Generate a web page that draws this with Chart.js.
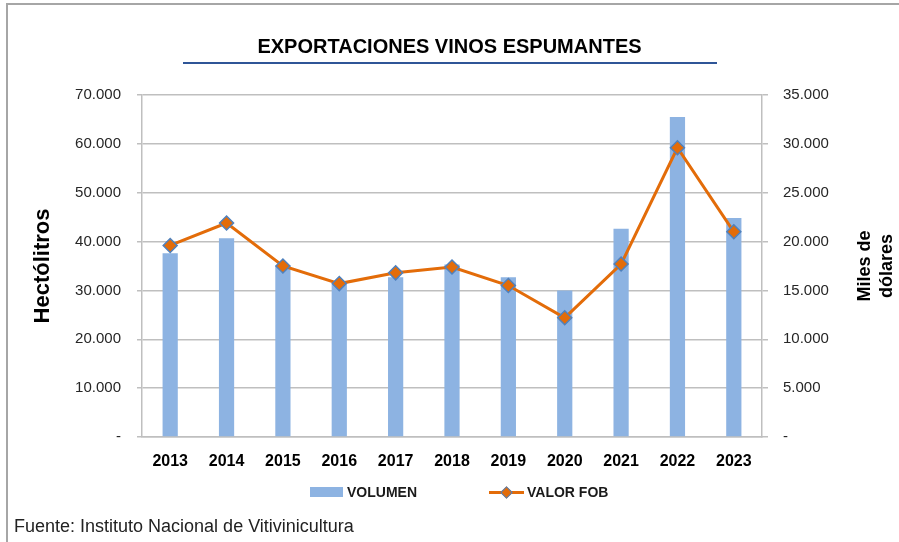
<!DOCTYPE html>
<html>
<head>
<meta charset="utf-8">
<script src="https://cdn.jsdelivr.net/npm/chart.js@4/dist/chart.umd.min.js"></script>
<style>
  body { margin: 0; background: #fff; font-family: 'Liberation Sans', Arial, sans-serif; }
  #wrap { position: relative; width: 899px; height: 542px; overflow: hidden; }
  #marco { position: absolute; left: 6px; top: 3px; width: 1000px; height: 1000px; border-top: 2px solid #a6a6a6; border-left: 2px solid #a6a6a6; }
  #grafico { position: absolute; left: 0; top: 0; width: 899px; height: 542px; }
  #leyenda { position: absolute; left: 310px; top: 484px; display: flex; align-items: center; font-weight: bold; font-size: 14px; color: #1a1a1a; }
  #leyenda .item { display: flex; align-items: center; margin-right: 72px; }
  #leyenda .caja { width: 33px; height: 10px; margin-right: 4px; }
  #leyenda .linea { position: relative; width: 35px; height: 14px; margin-right: 3px; }
  #leyenda .linea .trazo { position: absolute; left: 0; top: 6px; width: 35px; height: 3px; }
  #leyenda .linea .rombo { position: absolute; left: 13px; top: 3px; width: 7px; height: 7px; transform: rotate(45deg); border: 1px solid #4f81bd; }
  #fuente { position: absolute; left: 14px; top: 516px; font-size: 18px; color: #222; }
</style>
</head>
<body>
<div id="wrap">
  <div id="marco"></div>
  <div id="grafico"><canvas id="chartExport"></canvas></div>
  <div id="leyenda"></div>
  <div id="fuente">Fuente: Instituto Nacional de Vitivinicultura</div>
</div>
<script>
// Datos
const anios = ['2013', '2014', '2015', '2016', '2017', '2018', '2019', '2020', '2021', '2022', '2023'];
const volumen = [37600, 40700, 35100, 31300, 32700, 35300, 32700, 30000, 42600, 65500, 44800];
const valorFob = [19600, 21900, 17500, 15700, 16800, 17400, 15500, 12200, 17700, 29600, 21000];
const nombresSeries = ['VOLUMEN', 'VALOR FOB'];

const azulBarra = '#8db3e2';
const naranja = '#e36c09';
const azulBorde = '#4f81bd';
const gris = '#bfbfbf';

Chart.defaults.font.family = "'Liberation Sans', Arial, sans-serif";
Chart.defaults.color = '#1a1a1a';

function formatoMiles(valor) {
    if (valor === 0) return '-';
    return String(valor).replace(/\B(?=(\d{3})+(?!\d))/g, '.');
}

// Linea azul bajo el titulo y titulo del eje derecho (girado como en Excel)
const decoraciones = {
    id: 'decoraciones',
    afterDraw(chart) {
        const ctx = chart.ctx;
        ctx.save();
        ctx.strokeStyle = '#2f5597';
        ctx.lineWidth = 2;
        ctx.beginPath();
        ctx.moveTo(183, 63);
        ctx.lineTo(717, 63);
        ctx.stroke();

        const area = chart.chartArea;
        ctx.translate(876, (area.top + area.bottom) / 2);
        ctx.rotate(-Math.PI / 2);
        ctx.fillStyle = '#000';
        ctx.font = "bold 18px 'Liberation Sans', Arial, sans-serif";
        ctx.textAlign = 'center';
        ctx.textBaseline = 'middle';
        ctx.fillText('Miles de', 0, -11);
        ctx.fillText('dólares', 0, 11);
        ctx.restore();
    }
};

// Leyenda en HTML a partir de los datasets
const leyendaHtml = {
    id: 'leyendaHtml',
    afterUpdate(chart) {
        const cont = document.getElementById('leyenda');
        cont.innerHTML = '';
        chart.data.datasets.forEach(ds => {
            const item = document.createElement('div');
            item.className = 'item';
            if (ds.type === 'bar') {
                const caja = document.createElement('span');
                caja.className = 'caja';
                caja.style.background = ds.backgroundColor;
                item.appendChild(caja);
            } else {
                const linea = document.createElement('span');
                linea.className = 'linea';
                const trazo = document.createElement('span');
                trazo.className = 'trazo';
                trazo.style.background = ds.borderColor;
                const rombo = document.createElement('span');
                rombo.className = 'rombo';
                rombo.style.background = ds.pointBackgroundColor;
                linea.appendChild(trazo);
                linea.appendChild(rombo);
                item.appendChild(linea);
            }
            const texto = document.createElement('span');
            texto.textContent = ds.label;
            item.appendChild(texto);
            cont.appendChild(item);
        });
    }
};

const ctx = document.getElementById('chartExport').getContext('2d');

new Chart(ctx, {
    data: {
        labels: anios,
        datasets: [{
            type: 'bar',
            label: nombresSeries[0],
            data: volumen,
            yAxisID: 'y',
            backgroundColor: azulBarra,
            borderWidth: 0,
            barPercentage: 0.27,
            categoryPercentage: 1,
            order: 1
        }, {
            type: 'line',
            label: nombresSeries[1],
            data: valorFob,
            yAxisID: 'y1',
            borderColor: naranja,
            borderWidth: 3,
            pointStyle: 'rectRot',
            pointRadius: 7,
            pointBackgroundColor: naranja,
            pointBorderColor: azulBorde,
            pointBorderWidth: 1.5,
            tension: 0,
            order: 0
        }]
    },
    options: {
        responsive: true,
        maintainAspectRatio: false,
        animation: false,
        layout: { padding: { left: 0, right: 0, top: 0, bottom: 65 } },
        plugins: {
            legend: { display: false },
            tooltip: { enabled: false },
            title: {
                display: true,
                text: 'EXPORTACIONES VINOS ESPUMANTES',
                color: '#000',
                font: { size: 20, weight: 'bold' },
                padding: { top: 35, bottom: 36 }
            }
        },
        scales: {
            x: {
                grid: { display: false, drawTicks: false },
                border: { display: true, color: gris, width: 1.5 },
                ticks: { padding: 15, color: '#000', font: { size: 16, weight: 'bold' } },
                afterFit(scale) { scale.height = 40; }
            },
            y: {
                position: 'left',
                min: 0,
                max: 70000,
                ticks: { stepSize: 10000, padding: 16, color: '#262626', font: { size: 15 }, callback: v => formatoMiles(v) },
                grid: { color: gris, lineWidth: 1.5, tickLength: 5 },
                border: { display: true, color: gris, width: 1.5 },
                title: {
                    display: true,
                    text: 'Hectólitros',
                    color: '#000',
                    font: { size: 22, weight: 'bold' },
                    padding: { top: 30, bottom: 0 }
                },
                afterFit(scale) { scale.width = 142; }
            },
            y1: {
                position: 'right',
                min: 0,
                max: 35000,
                ticks: { stepSize: 5000, padding: 15, color: '#262626', font: { size: 15 }, callback: v => formatoMiles(v) },
                grid: { drawOnChartArea: false, color: gris, lineWidth: 1.5, tickLength: 6 },
                border: { display: true, color: gris, width: 1.5 },
                afterFit(scale) { scale.width = 137; }
            }
        }
    },
    plugins: [decoraciones, leyendaHtml]
});
</script>
</body>
</html>
